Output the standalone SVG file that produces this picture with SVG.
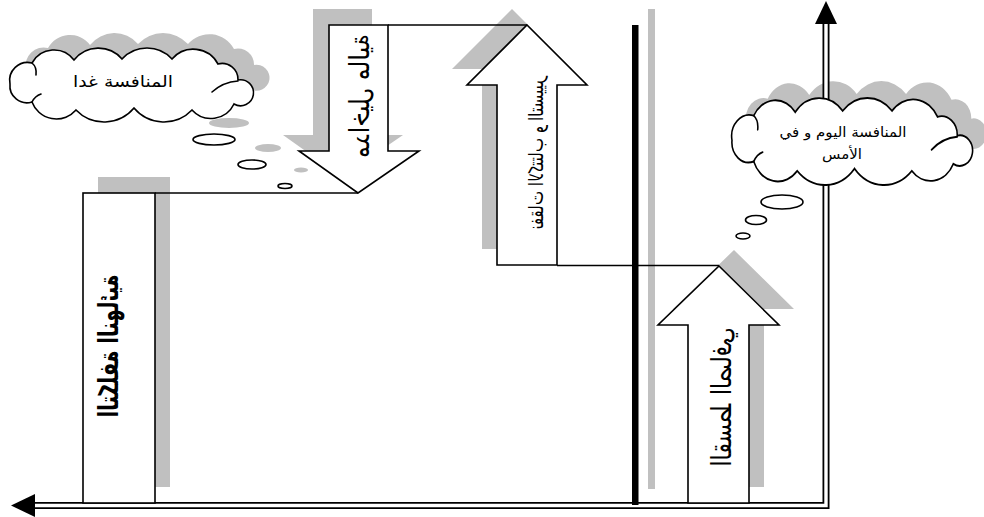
<svg xmlns="http://www.w3.org/2000/svg" width="984" height="517" viewBox="0 0 984 517">
  <style>
    .sh { fill: #c0c0c0; stroke: none; }
    .body { fill: #ffffff; stroke: #000000; stroke-width: 1.6; stroke-linejoin: miter; }
    .ln { fill: none; stroke: #000000; stroke-width: 1.6; }
    .cloud { fill: #ffffff; stroke: #000000; stroke-width: 1.6; }
    .hooks { fill: none; stroke: #000000; stroke-width: 1.6; stroke-linecap: round; }
    .lbl { font-family: "DejaVu Sans", "Liberation Sans", sans-serif; fill: #000000; }
  </style>
  <defs>
    <!-- thought-cloud outline in a 242 x 74 local box -->
    <path id="cloudShape" d="M0,36 A18,18 0 0 1 22,15 A25,25 0 0 1 64,12 A31,31 0 0 1 112,11 A34,34 0 0 1 162,11 A28,28 0 0 1 208,16 A16,16 0 0 1 228,32 A13,13 0 1 1 224,56 A25.5,25.5 0 0 1 182,62 A39,39 0 0 1 124,60 A39,39 0 0 1 66,62 A26,26 0 0 1 22,54 A17,17 0 0 1 0,36 Z"/>
    <path id="cloudHooks" d="M22,15 Q27,19 26,27 M228,33 Q213,34 202,44 M22,54 Q25,48 31,46"/>
    <path id="arrowDown" d="M329,25 H388 V151 H419 L358,193 L299,151 H329 Z"/>
    <path id="arrowUp" d="M527,25 L587,85 H557 V265 H497 V85 H467 Z"/>
    <path id="arrowNet" d="M719,266 L779,325 H749 V503 H688 V325 H658 Z"/>
    <rect id="costBox" x="83" y="193" width="72" height="310"/>
  </defs>

  <!-- drop shadows -->
  <g id="shadows">
    <use href="#costBox" class="sh" transform="translate(15,-16)"/>
    <use href="#arrowDown" class="sh" transform="translate(-16,-16)"/>
    <use href="#arrowUp" class="sh" transform="translate(-15,-16)"/>
    <use href="#arrowNet" class="sh" transform="translate(15,-16)"/>
    <rect x="648" y="9" width="7" height="480" class="sh"/>
    <use href="#cloudShape" class="sh" transform="translate(26,33)"/>
    <ellipse cx="229" cy="123" rx="20" ry="5" class="sh"/>
    <ellipse cx="268" cy="148" rx="13" ry="4" class="sh"/>
    <ellipse cx="301" cy="170" rx="7" ry="2.5" class="sh"/>
    <use href="#cloudShape" class="sh" transform="translate(746,81) scale(0.988,1.176)"/>
  </g>

  <!-- axes: double lines with solid heads -->
  <g id="axes">
    <path d="M34,505.5 H826 V22" fill="none" stroke="#000" stroke-width="7"/>
    <path d="M30,505.5 H826 V18" fill="none" stroke="#fff" stroke-width="3.4"/>
    <polygon points="11,505.5 35,494 35,517" fill="#000"/>
    <polygon points="826,1 815,24 837,24" fill="#000"/>
  </g>

  <!-- separator bar -->
  <g id="separator">
    <rect x="632" y="25" width="6.5" height="480" fill="#000"/>
  </g>

  <!-- step connectors -->
  <g id="connectors">
    <path class="ln" d="M155,193 H358"/>
    <path class="ln" d="M388,25 H527"/>
    <path class="ln" d="M557,265.5 H719"/>
  </g>

  <!-- vertical labels: baseline on the right, line running downward -->
  <g id="final-cost">
    <use href="#costBox" class="body"/>
    <text class="lbl" font-size="27" font-weight="bold" text-anchor="middle" textLength="143" lengthAdjust="spacingAndGlyphs" transform="matrix(0,1,1,0,118,346)">التكلفة النهائية</text>
  </g>

  <g id="income">
    <use href="#arrowDown" class="body"/>
    <text class="lbl" font-size="28" text-anchor="middle" textLength="124" lengthAdjust="spacingAndGlyphs" transform="matrix(0,1,1,0,369,96)">مداخيل مالية</text>
  </g>

  <g id="expenses">
    <use href="#arrowUp" class="body"/>
    <text class="lbl" font-size="20" text-anchor="middle" textLength="153" lengthAdjust="spacingAndGlyphs" transform="matrix(0,1,1,0,543,153)">نفقات الاكتتاب و التسيير</text>
  </g>

  <g id="net-premium">
    <use href="#arrowNet" class="body"/>
    <text class="lbl" font-size="28" text-anchor="middle" textLength="139" lengthAdjust="spacingAndGlyphs" transform="matrix(0,1,1,0,731,397)">القسط الصافي</text>
  </g>

  <g id="cloud-tomorrow">
    <use href="#cloudShape" class="cloud" transform="translate(10,48)"/>
    <use href="#cloudHooks" class="hooks" transform="translate(10,48)"/>
    <ellipse cx="214" cy="139.5" rx="21" ry="5.5" class="cloud"/>
    <ellipse cx="252" cy="164.5" rx="14" ry="4.5" class="cloud"/>
    <ellipse cx="285" cy="186" rx="7" ry="2.5" class="cloud"/>
    <text class="lbl" x="123" y="87" font-size="16" text-anchor="middle" textLength="100" lengthAdjust="spacingAndGlyphs">المنافسة غدا</text>
  </g>

  <g id="cloud-today">
    <use href="#cloudShape" class="cloud" transform="translate(732,98) scale(0.988,1.176)"/>
    <use href="#cloudHooks" class="hooks" transform="translate(732,98) scale(0.988,1.176)"/>
    <ellipse cx="782" cy="202" rx="21" ry="7" class="cloud"/>
    <ellipse cx="756" cy="220" rx="10.5" ry="4.5" class="cloud"/>
    <ellipse cx="743" cy="236" rx="7" ry="3" class="cloud"/>
    <text class="lbl" x="843" y="137" font-size="14" text-anchor="middle" textLength="127" lengthAdjust="spacingAndGlyphs">المنافسة اليوم و في</text>
    <text class="lbl" x="842" y="159" font-size="14" text-anchor="middle" textLength="40" lengthAdjust="spacingAndGlyphs">الأمس</text>
  </g>
</svg>
